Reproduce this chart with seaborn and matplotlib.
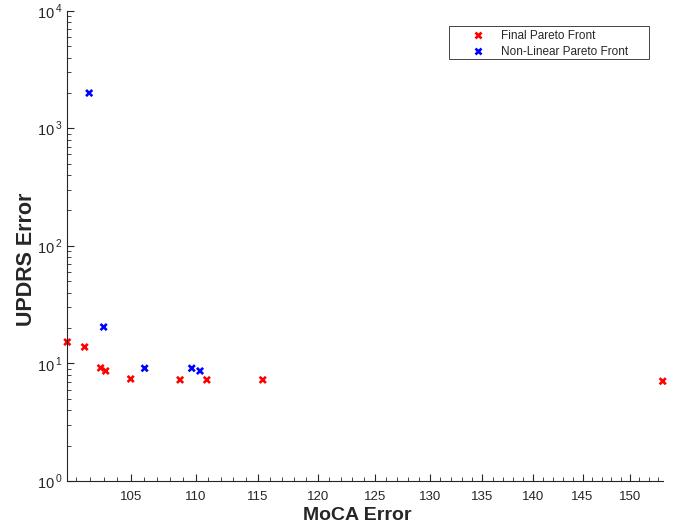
import seaborn as sns
import matplotlib.pyplot as plt
import matplotlib.ticker as mticker
from matplotlib.patches import Rectangle
import numpy as np
import pandas as pd

# values
final_moca = [100.35, 101.6, 102.77, 103.14, 105.0, 108.77, 110.87, 115.39, 153.55]
final_updrs = [15.2, 13.8, 9.16, 8.63, 7.38, 7.25, 7.25, 7.25, 7.06]
nonlin_moca = [101.93, 102.99, 106.05, 109.68, 110.33]
nonlin_updrs = [1995, 20.4, 9.1, 9.1, 8.63]
series_names = ['Final Pareto Front', 'Non-Linear Pareto Front']
x_major = [105, 110, 115, 120, 125, 130, 135, 140, 145, 150]

df = pd.DataFrame({
    'MoCA Error': final_moca + nonlin_moca,
    'UPDRS Error': final_updrs + nonlin_updrs,
    'Series': [series_names[0]] * len(final_moca) + [series_names[1]] * len(nonlin_moca),
})

sns.set_style('ticks')
plt.rcParams['font.family'] = ['Liberation Sans', 'DejaVu Sans']
plt.rcParams['mathtext.fontset'] = 'custom'
plt.rcParams['mathtext.rm'] = 'Liberation Sans'

fig = plt.figure(figsize=(6.77, 5.29), dpi=100)
ax = fig.add_axes([0.0994, 0.0907, 0.8795, 0.889])

sns.scatterplot(data=df, x='MoCA Error', y='UPDRS Error', hue='Series',
                palette={series_names[0]: '#ff0000', series_names[1]: '#0000ff'},
                marker='x', s=20, linewidth=1.9, clip_on=False, ax=ax)

ax.set_xscale('log')
ax.set_yscale('log')
ax.set_xlim(min(df['MoCA Error']), max(df['MoCA Error']))
ax.set_ylim(1, 1e4)

ax.xaxis.set_major_locator(mticker.FixedLocator(x_major))
ax.xaxis.set_major_formatter(mticker.FixedFormatter([str(v) for v in x_major]))
ax.xaxis.set_minor_locator(mticker.FixedLocator([v for v in range(101, 154) if v % 5]))
ax.xaxis.set_minor_formatter(mticker.NullFormatter())
ax.yaxis.set_major_locator(mticker.FixedLocator([1, 10, 100, 1000, 10000]))
ax.yaxis.set_major_formatter(mticker.FixedFormatter([f'$10^{{\\,{i}}}$' for i in range(5)]))

sns.despine(ax=ax)
for sp in ['left', 'bottom']:
    ax.spines[sp].set_color('#262626')
    ax.spines[sp].set_linewidth(0.8)
ax.tick_params(which='both', direction='in', colors='#262626', labelsize=9.5)
ax.tick_params(which='major', length=5, width=0.8)
ax.tick_params(which='minor', length=3, width=0.6)
ax.tick_params(axis='y', labelsize=10.5)
ax.tick_params(axis='x', pad=7)

ax.set_xlabel('MoCA Error', fontsize=14, fontweight='bold', color='#262626', va='center')
ax.set_ylabel('UPDRS Error', fontsize=15.5, fontweight='bold', color='#262626', va='center')
ax.xaxis.set_label_coords(0.4866, -0.0723)
ax.yaxis.set_label_coords(-0.069, 0.472)

handles, labels = ax.get_legend_handles_labels()
leg = ax.legend(handles, labels, loc='upper left', bbox_to_anchor=(0.6802, 0.958),
                borderaxespad=0, borderpad=0, fontsize=8.5, frameon=False,
                handlelength=1.0, handletextpad=1.45, labelspacing=0.28)
ax.add_patch(Rectangle((0.641, 0.8973), 0.336, 0.0702, transform=ax.transAxes,
                       fill=False, edgecolor='#262626', linewidth=0.6, clip_on=False))

fig.savefig('out.png', dpi=100)
